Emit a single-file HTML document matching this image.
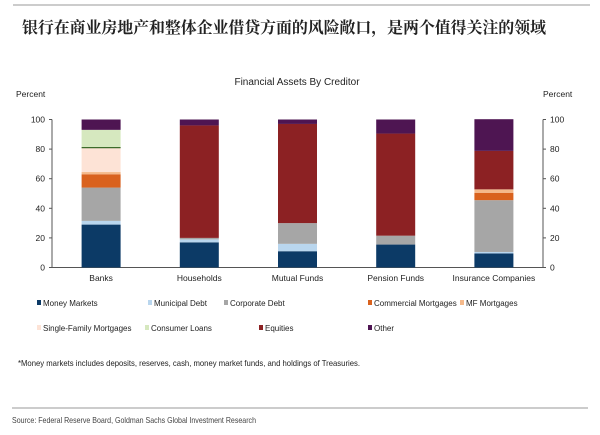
<!DOCTYPE html>
<html><head><meta charset="utf-8"><style>
body{margin:0;background:#fff;width:600px;height:430px;overflow:hidden;font-family:"Liberation Sans",sans-serif}
svg text{font-family:"Liberation Sans",sans-serif}
</style></head><body>
<svg width="600" height="430">
<line x1="13" y1="5" x2="590" y2="5" stroke="#bbb" stroke-width="1.5"/>
<text x="22" y="33" font-size="16" font-weight="bold" fill="#222" textLength="524" style="font-family:'Liberation Serif','Noto Serif CJK SC',serif">银行在商业房地产和整体企业借贷方面的风险敞口，是两个值得关注的领域</text>
<text x="297" y="85" font-size="10" text-anchor="middle" fill="#222">Financial Assets By Creditor</text>
<text x="16" y="97" font-size="8.5" fill="#222">Percent</text>
<text x="543" y="97" font-size="8.5" fill="#222">Percent</text>
<g id="axes"></g><g id="bars"></g><g id="legend"></g>
<text x="18" y="366" font-size="8.5" fill="#222" textLength="342" lengthAdjust="spacingAndGlyphs">*Money markets includes deposits, reserves, cash, money market funds, and holdings of Treasuries.</text>
<line x1="12" y1="408" x2="588" y2="408" stroke="#bbb" stroke-width="1.5"/>
<text x="12" y="423" font-size="8.5" fill="#444" textLength="244" lengthAdjust="spacingAndGlyphs">Source: Federal Reserve Board, Goldman Sachs Global Investment Research</text>
</svg>
<script>
const categories=["Banks","Households","Mutual Funds","Pension Funds","Insurance Companies"];
const seriesNames=["Money Markets","Municipal Debt","Corporate Debt","Commercial Mortgages","MF Mortgages","Single-Family Mortgages","Consumer Loans","Equities","Other"];
const moneyMarkets=[29,17,11,15.5,9.5];
const municipalDebt=[2.5,2,5,0,1];
const corporateDebt=[22.5,1,14,6,35];
const commercialMortgages=[9,0,0,0,5];
const mfMortgages=[1.5,0,0,0,2.3];
const singleFamily=[16.5,0,0,0,0];
const consumerLoans=[12,0,0,0,0];
const equities=[0,76,67,69,26];
const other=[7,4,3,9.5,21.4];
const yTicks=[0,20,40,60,80,100];
const series=[moneyMarkets,municipalDebt,corporateDebt,commercialMortgages,mfMortgages,singleFamily,consumerLoans,equities,other];
const colors=["#0c3a66","#b9d6ee","#a6a6a6","#d9621e","#f5b98a","#fde3d6","#d6e8bf","#8c2123","#4e1552"];
const NS="http://www.w3.org/2000/svg";
const X0=52,X1=543,Y0=267.5,Y1=119.5;
const band=(X1-X0)/categories.length;
const xC=i=>X0+band*(i+0.5);
const y=v=>Y0-(v/100)*(Y0-Y1);
function mk(t,a,p){const e=document.createElementNS(NS,t);for(const k in a)e.setAttribute(k,a[k]);p.appendChild(e);return e;}
const ax=document.getElementById('axes');
let e=mk('line',{x1:X0,y1:Y0,x2:X1,y2:Y0,stroke:'#555'},ax);

e=mk('line',{x1:X0,y1:Y1,x2:X0,y2:Y0,stroke:'#555'},ax);

e=mk('line',{x1:X1,y1:Y1,x2:X1,y2:Y0,stroke:'#555'},ax);

yTicks.forEach(t=>{
 mk('line',{x1:X0-3,x2:X0,y1:y(t),y2:y(t),stroke:'#555'},ax);
 mk('line',{x1:X1,x2:X1+3,y1:y(t),y2:y(t),stroke:'#555'},ax);
 let l=mk('text',{x:X0-7,y:y(t)+3,'font-size':8.5,'text-anchor':'end',fill:'#222'},ax);l.textContent=t;
 
 let r=mk('text',{x:X1+7,y:y(t)+3,'font-size':8.5,fill:'#222'},ax);r.textContent=t;
 
});
const bg=document.getElementById('bars');const bw=39;
categories.forEach((c,i)=>{
 let cum=0;
 series.forEach((s,j)=>{
  const v=s[i];if(v<=0)return;
  const r=mk('rect',{x:xC(i)-bw/2,y:y(cum+v),width:bw,height:y(cum)-y(cum+v),fill:colors[j]},bg);
  
  if(j===6) mk('line',{x1:xC(i)-bw/2,x2:xC(i)+bw/2,y1:y(cum),y2:y(cum),stroke:'#3d6b2a','stroke-width':1.2},bg);
  cum+=v;
 });
 const t=mk('text',{x:xC(i),y:281,'font-size':8.5,'text-anchor':'middle',fill:'#222'},bg);t.textContent=c;
 
});
const lg=document.getElementById('legend');
const lp=[[37,306],[148,306],[224,306],[368,306],[460,306],[37,331],[145,331],[259,331],[368,331]];
seriesNames.forEach((n,j)=>{
 const g=mk('g',{},lg);
 
 mk('rect',{x:lp[j][0],y:lp[j][1]-6,width:4,height:5,fill:colors[j]},g);
 const t=mk('text',{x:lp[j][0]+6,y:lp[j][1],'font-size':8,fill:'#222'},g);t.textContent=n;
});
</script>
</body></html>
